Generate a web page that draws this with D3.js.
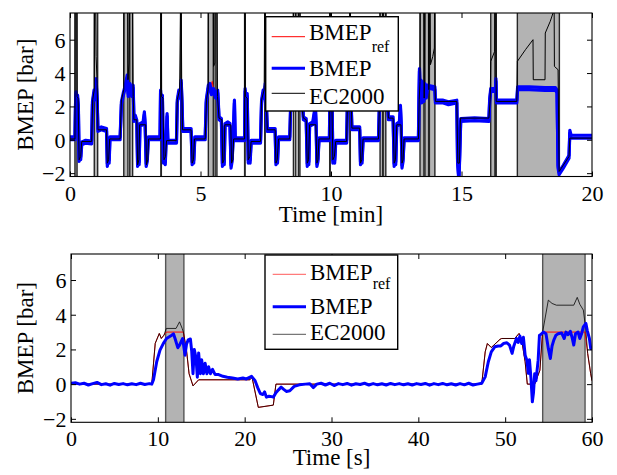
<!DOCTYPE html>
<html><head><meta charset="utf-8">
<script src="https://cdn.jsdelivr.net/npm/d3@7/dist/d3.min.js"></script>
<style>
body{margin:0;background:#fff}
svg{display:block}
text{font-family:'Liberation Serif','Tinos','Times New Roman','Nimbus Roman','DejaVu Serif',serif;fill:#000}
</style>
</head><body>
<svg id="c" width="617" height="475"></svg>
<script>
// ---------------- DATA ----------------
const seriesNames = ["BMEP", "BMEP", "EC2000"]; // first gets subscript "ref"
const yTicks = [-2, 0, 2, 4, 6];
const topXTicks = [0, 5, 10, 15, 20];
const botXTicks = [0, 10, 20, 30, 40, 50, 60];
const topXLabel = "Time [min]";
const botXLabel = "Time [s]";
const yLabel = "BMEP [bar]";

// gray bands (EC2000 out of range), [start, end]
const topBands = [[0.19,0.27],[0.93,1.06],[2.06,2.22],[2.29,2.40],[3.48,3.50],[4.24,4.26],[5.30,5.49],[5.56,5.63],
  [6.69,6.71],[7.46,7.48],[8.56,8.65],[8.75,8.81],[9.95,9.97],[10.72,10.74],[11.88,11.98],[12.0,12.1],
  [13.41,13.56],[13.60,13.74],[13.77,13.98],[16.12,16.28],[16.31,16.33],[17.14,18.75]];
const botBands = [[10.9,13.0],[54.32,59.2]];

// top panel: time in minutes
const topRef = [[0,0.05],[0.19,0.05],[0.22,2.6],[0.31,2.5],[0.35,-1.1],[0.41,-1.0],[0.45,-0.1],[0.83,-0.1],[0.87,2.3],[0.96,2.9],[1.02,3.4],[1.07,0.6],[1.4,0.6],[1.43,-1.4],[1.48,-1.2],[1.52,0.05],[1.92,0.05],[1.97,2.3],[2.1,3.0],[2.2,3.6],[2.26,2.8],[2.42,2.6],[2.45,1.2],[2.56,1.2],[2.59,-1.4],[2.64,-1.2],[2.67,0.9],[2.9,0.9],[2.93,-1.4],[2.98,-1.2],[3.01,0.05],
  [3.45,0.05],[3.48,2.6],[3.56,2.5],[3.6,-1.1],[3.66,-1.0],[3.7,-0.05],[4.07,-0.05],[4.11,2.3],[4.2,2.9],[4.26,3.4],[4.31,0.6],[4.64,0.6],[4.68,-1.4],[4.73,-1.2],[4.77,0.05],[5.18,0.05],[5.23,2.3],[5.35,3.0],[5.45,3.5],[5.52,2.8],[5.68,2.6],[5.71,1.2],[5.82,1.2],[5.85,-1.4],[5.9,-1.2],[5.93,0.9],[6.16,0.9],[6.19,-1.4],[6.24,-1.2],[6.27,0.05],
  [6.69,0.05],[6.72,2.6],[6.79,2.5],[6.83,-1.1],[6.89,-1.0],[6.94,-0.1],[7.3,-0.1],[7.34,2.3],[7.44,2.9],[7.49,3.4],[7.56,0.6],[7.86,0.6],[7.89,-1.4],[7.94,-1.2],[7.99,0.05],[8.42,0.05],[8.46,2.3],[8.56,3.0],[8.64,3.5],[8.7,2.8],[8.88,2.6],[8.94,1.2],[9.05,1.2],[9.09,-1.4],[9.14,-1.2],[9.18,0.9],[9.42,0.9],[9.46,-1.4],[9.5,-1.2],[9.54,0.05],
  [9.95,0.05],[9.98,2.6],[10.03,2.5],[10.07,-1.1],[10.13,-1.0],[10.18,-0.1],[10.6,-0.1],[10.63,2.3],[10.7,2.9],[10.75,3.4],[10.8,0.7],[11.1,0.7],[11.13,-1.4],[11.18,-1.2],[11.23,0.05],[11.82,0.05],[11.86,2.3],[11.94,3.0],[12.0,3.5],[12.06,2.8],[12.16,2.6],[12.2,1.2],[12.38,1.2],[12.42,-1.4],[12.47,-1.2],[12.52,0.9],[12.68,0.9],[12.72,-1.4],[12.76,-1.2],[12.8,0.05],
  [13.35,0.05],[13.38,2.4],[13.42,3.6],[13.46,2.5],[13.5,3.3],[13.55,2.4],[13.6,3.2],[13.66,2.6],[13.72,3.1],[13.98,3.1],[14.0,2.3],[14.82,2.3],[14.86,-1.4],[14.92,-1.3],[14.96,1.3],[16.05,1.3],[16.1,2.4],[16.15,3.0],[16.3,3.0],[16.33,2.3],[17.12,2.3],[17.15,3.0],[18.68,3.0],[18.72,-1.9],[19.12,-1.0],[19.15,0.1],[20,0.1]];

const topBmep = [[0,0.1],[0.19,0.1],[0.21,2.0],[0.23,2.8],[0.26,1.6],[0.29,2.6],[0.32,2.0],[0.35,-1.2],[0.38,-0.7],[0.41,-1.1],[0.45,-0.2],[0.6,-0.1],[0.83,-0.15],[0.86,2.2],[0.92,2.9],[0.97,2.5],[1.0,3.6],[1.04,2.4],[1.07,0.6],[1.2,0.7],[1.4,0.6],[1.43,-1.5],[1.47,-1.0],[1.5,-1.3],[1.53,0.1],[1.92,0.1],[1.97,2.2],[2.05,2.8],[2.12,3.2],[2.19,3.8],[2.23,2.7],[2.3,3.3],[2.36,2.7],[2.42,3.2],[2.45,1.2],[2.5,1.4],[2.56,1.1],[2.59,-1.5],[2.62,-1.1],[2.65,-1.4],[2.68,0.9],[2.8,1.0],[2.85,1.6],[2.88,0.9],[2.92,-1.5],[2.96,-1.2],[3.0,0.1],
  [3.45,0.1],[3.47,2.9],[3.5,2.2],[3.54,2.6],[3.58,-1.3],[3.62,-1.0],[3.65,-1.4],[3.68,-0.1],[3.72,1.5],[3.75,-0.1],[4.08,-0.1],[4.11,2.3],[4.17,2.9],[4.22,2.6],[4.26,3.5],[4.29,2.3],[4.32,0.6],[4.64,0.6],[4.68,-1.4],[4.71,-1.0],[4.74,-1.3],[4.78,0.1],[5.18,0.1],[5.22,2.3],[5.3,3.2],[5.36,3.3],[5.42,2.8],[5.5,3.0],[5.58,2.6],[5.66,2.9],[5.71,1.3],[5.8,1.2],[5.84,-1.5],[5.88,-1.0],[5.91,-1.4],[5.94,0.9],[6.05,1.0],[6.13,0.9],[6.17,-1.6],[6.21,-1.2],[6.25,0.05],[6.3,2.3],[6.33,0.05],
  [6.69,0.05],[6.71,3.0],[6.75,2.3],[6.79,2.7],[6.83,-1.3],[6.87,-0.9],[6.9,-1.3],[6.94,-0.1],[7.3,-0.1],[7.34,2.3],[7.4,2.9],[7.44,2.6],[7.48,3.3],[7.52,2.3],[7.56,0.6],[7.86,0.6],[7.89,-1.4],[7.92,-1.0],[7.95,-1.3],[7.99,0.1],[8.42,0.1],[8.46,2.3],[8.54,3.0],[8.6,3.4],[8.66,2.8],[8.74,3.1],[8.82,2.7],[8.9,2.9],[8.94,1.3],[9.05,1.2],[9.09,-1.5],[9.12,-1.0],[9.15,-1.4],[9.18,0.9],[9.3,1.0],[9.4,2.0],[9.43,0.9],[9.46,-1.5],[9.5,-1.2],[9.54,0.05],
  [9.94,0.05],[9.96,3.0],[10.0,2.3],[10.04,2.6],[10.07,-1.3],[10.11,-0.9],[10.14,-1.3],[10.18,-0.1],[10.6,-0.1],[10.63,2.3],[10.68,2.9],[10.71,2.6],[10.74,3.4],[10.77,2.3],[10.8,0.7],[11.1,0.7],[11.13,-1.4],[11.16,-1.0],[11.19,-1.3],[11.23,0.05],[11.82,0.05],[11.86,2.4],[11.92,3.0],[11.98,3.6],[12.04,2.8],[12.1,3.1],[12.16,2.7],[12.2,1.3],[12.38,1.3],[12.42,-1.5],[12.45,-1.0],[12.48,-1.4],[12.52,0.9],[12.62,1.0],[12.66,2.0],[12.69,0.9],[12.72,-1.6],[12.76,-1.2],[12.8,0.05],
  [13.35,0.05],[13.37,2.4],[13.39,4.2],[13.42,2.5],[13.45,3.5],[13.48,2.3],[13.52,3.4],[13.56,2.4],[13.6,3.3],[13.65,2.6],[13.7,3.2],[13.98,3.1],[14.0,2.3],[14.3,2.3],[14.5,2.2],[14.82,2.3],[14.85,-1.3],[14.9,-2.4],[14.93,-1.0],[14.97,1.2],[15.5,1.25],[16.05,1.2],[16.08,2.4],[16.12,3.0],[16.3,3.0],[16.32,3.6],[16.34,2.3],[16.7,2.3],[17.12,2.3],[17.15,3.1],[17.6,3.1],[18.2,3.05],[18.6,3.05],[18.66,2.9],[18.7,-1.6],[18.74,-2.0],[18.9,-1.6],[19.12,-1.0],[19.15,0.5],[19.2,0.2],[20,0.2]];

const topEc = [[0,0.05],[0.19,0.05],[0.2,9],[0.26,9],[0.27,2.6],[0.31,2.5],[0.35,-1.2],[0.41,-1.0],[0.45,-0.1],[0.83,-0.1],[0.87,2.4],[0.93,3.0],[0.94,9],[0.98,9],[1.0,5.0],[1.04,3.4],[1.07,0.6],[1.4,0.6],[1.43,-1.4],[1.48,-1.2],[1.52,0.05],[1.92,0.05],[1.97,2.4],[2.06,3.0],[2.07,9],[2.21,9],[2.22,3.6],[2.26,4.6],[2.29,9],[2.39,9],[2.42,2.6],[2.45,1.2],[2.56,1.2],[2.59,-1.5],[2.64,-1.2],[2.67,0.9],[2.9,0.9],[2.93,-1.5],[2.98,-1.2],[3.01,0.05],
  [3.47,0.05],[3.48,9],[3.5,9],[3.51,2.6],[3.56,2.5],[3.6,-1.2],[3.66,-1.0],[3.7,-0.05],[4.07,-0.05],[4.11,2.4],[4.2,3.0],[4.24,9],[4.26,9],[4.28,3.4],[4.31,0.6],[4.64,0.6],[4.68,-1.4],[4.73,-1.2],[4.77,0.05],[5.18,0.05],[5.23,2.4],[5.29,3.0],[5.3,9],[5.49,9],[5.5,4.4],[5.55,4.6],[5.56,9],[5.63,9],[5.65,2.6],[5.71,1.3],[5.82,1.2],[5.85,-1.4],[5.9,-1.2],[5.93,0.9],[6.16,0.9],[6.19,-1.4],[6.24,-1.2],[6.27,0.05],
  [6.69,0.05],[6.7,9],[6.71,9],[6.72,2.6],[6.79,2.5],[6.83,-1.2],[6.89,-1.0],[6.94,-0.1],[7.3,-0.1],[7.34,2.4],[7.44,3.0],[7.46,9],[7.48,9],[7.5,3.3],[7.56,0.6],[7.86,0.6],[7.89,-1.4],[7.94,-1.2],[7.99,0.05],[8.42,0.05],[8.46,2.4],[8.55,3.0],[8.56,9],[8.65,9],[8.66,3.5],[8.74,3.0],[8.75,9],[8.81,9],[8.83,2.7],[8.94,1.3],[9.05,1.2],[9.09,-1.4],[9.14,-1.2],[9.18,0.9],[9.42,0.9],[9.46,-1.4],[9.5,-1.2],[9.54,0.05],
  [9.95,0.05],[9.96,9],[9.97,9],[9.98,2.6],[10.03,2.5],[10.07,-1.2],[10.13,-1.0],[10.18,-0.1],[10.6,-0.1],[10.63,2.4],[10.71,3.0],[10.72,9],[10.74,9],[10.76,3.3],[10.8,0.7],[11.1,0.7],[11.13,-1.4],[11.18,-1.2],[11.23,0.05],[11.82,0.05],[11.86,2.4],[11.87,3.0],[11.88,9],[11.98,9],[11.99,4.0],[12.0,9],[12.1,9],[12.12,3.0],[12.16,2.7],[12.2,1.3],[12.38,1.3],[12.42,-1.4],[12.47,-1.2],[12.52,0.9],[12.68,0.9],[12.72,-1.4],[12.76,-1.2],[12.8,0.05],
  [13.35,0.05],[13.38,2.4],[13.41,3.5],[13.42,9],[13.56,9],[13.57,2.5],[13.6,9],[13.74,9],[13.75,3.0],[13.77,9],[13.8,9],[13.81,4.5],[13.9,5.0],[13.96,5.5],[13.97,9],[13.98,9],[13.99,3.1],[14.0,2.3],[14.82,2.3],[14.86,-1.4],[14.92,-1.4],[14.96,1.3],[16.05,1.3],[16.1,2.4],[16.12,4.7],[16.27,5.3],[16.28,9],[16.32,9],[16.33,2.3],[17.12,2.3],[17.14,4.7],[17.45,5.4],[17.74,6.0],[17.75,3.6],[18.2,3.6],[18.21,6.4],[18.4,7.1],[18.55,7.8],[18.56,4.4],[18.7,4.2],[18.74,-1.9],[19.12,-1.0],[19.15,0.1],[20,0.1]];

// bottom panel: time in seconds
const botRef = [[0,0],[9.3,0],[9.7,2.35],[10.17,2.92],[10.4,2.63],[10.7,2.82],[10.98,3.0],[12.94,3.0],[13.3,1.96],[13.6,0.6],[14.05,-0.1],[14.7,0.25],[20.6,0.25],[20.85,0.39],[21.57,-1.34],[23.3,-1.21],[23.6,0],[47.3,0],[47.7,1.86],[47.95,2.34],[48.4,2.11],[48.7,2.25],[49.4,2.58],[49.6,2.63],[51.1,2.63],[51.6,2.92],[51.9,2.54],[52.3,1.29],[52.55,0],[53.4,0],[54.0,0.8],[54.3,2.92],[54.45,3.0],[59.2,3.0],[59.5,1.77],[59.85,0.6],[60,0.2]];

const botEc = [[0,0],[9.3,0],[9.7,2.35],[10.17,2.92],[10.4,2.63],[10.7,2.82],[10.98,3.21],[12.1,3.21],[12.5,3.59],[12.8,3.21],[12.94,3.0],[13.3,1.96],[13.6,0.6],[14.05,-0.1],[14.7,0.25],[20.6,0.25],[20.85,0.39],[21.57,-1.34],[23.3,-1.21],[23.6,0],[47.3,0],[47.7,1.86],[47.95,2.34],[48.4,2.11],[48.7,2.25],[49.4,2.58],[49.6,2.63],[51.1,2.63],[51.6,2.92],[51.9,2.54],[52.3,1.29],[52.55,0],[53.4,0],[54.0,0.8],[54.3,2.96],[54.97,4.84],[55.4,4.65],[55.9,4.55],[57.9,4.55],[58.3,5.0],[58.6,4.6],[59.0,4.27],[59.3,3.1],[59.5,1.77],[59.85,0.6],[60,0.2]];

const botBmep = [[0,0.05],[0.5,0.08],[1,0.0],[1.5,0.05],[2,-0.05],[2.5,0.03],[3,0.1],[3.5,-0.03],[4,0.02],[4.5,-0.06],[5,0.04],[5.5,-0.02],[6,0.03],[6.5,-0.04],[7,0.02],[7.5,-0.03],[8,0.05],[8.5,-0.02],[9,0.03],[9.3,0.0],
  [9.5,0.25],[9.87,1.29],[10.25,1.96],[10.64,2.35],[11.0,2.63],[11.6,2.82],[11.8,2.9],[12.0,2.6],[12.3,2.1],[12.5,2.25],[12.86,2.63],[13.13,1.67],[13.3,2.3],[13.5,2.55],[13.75,2.6],[13.9,1.9],[14.05,0.6],[14.2,2.0],[14.4,1.5],[14.55,0.4],[14.7,1.8],[14.9,0.6],[15.05,1.4],[15.25,0.6],[15.45,1.2],[15.65,0.6],[15.85,1.0],[16.05,0.6],[16.3,0.85],[16.6,0.55],[17.0,0.55],[17.5,0.45],[18.0,0.4],[18.6,0.35],[19.2,0.3],[19.8,0.35],[20.2,0.3],[20.8,0.45],[21.2,0.2],[21.5,-0.2],[21.8,-0.54],[22.1,-0.6],[22.3,-0.45],[22.5,-0.75],[22.8,-0.7],[23.1,-0.72],[23.3,-0.75],[23.6,-0.5],[23.9,-0.33],[24.2,-0.17],[24.5,-0.3],[24.8,-0.42],[25.2,-0.38],[25.7,-0.13],[26.3,-0.04],[27,0.0],
  [27.5,0.02],[27.9,-0.2],[28.3,0.0],[28.8,0.05],[29.3,-0.05],[29.8,0.05],[30.3,-0.08],[30.8,0.03],[31.3,-0.03],[31.8,0.04],[32.3,-0.06],[32.8,0.02],[33.3,-0.02],[33.8,0.05],[34.3,-0.05],[34.8,0.03],[35.3,-0.04],[35.8,0.02],[36.3,-0.05],[36.8,0.04],[37.3,-0.03],[37.8,0.03],[38.3,-0.04],[38.8,0.02],[39.3,-0.05],[39.8,0.03],[40.3,-0.02],[40.8,0.04],[41.3,-0.06],[41.8,0.03],[42.3,-0.03],[42.8,0.04],[43.3,-0.04],[43.8,0.02],[44.3,-0.05],[44.8,0.03],[45.3,-0.04],[45.8,0.05],[46.3,-0.05],[46.8,0.0],[47.3,0.05],
  [47.7,0.42],[48.06,1.29],[48.4,1.86],[48.8,2.15],[49.2,2.2],[49.5,2.2],[49.8,2.34],[50.2,2.38],[50.5,2.25],[50.8,1.77],[51.0,2.2],[51.3,2.63],[51.5,2.4],[51.7,2.77],[51.9,2.34],[52.1,2.7],[52.3,1.67],[52.5,1.38],[52.67,0.62],[52.8,1.4],[52.97,0.35],[53.13,-1.02],[53.26,-0.5],[53.4,0.6],[53.55,0.2],[53.8,1.38],[53.95,2.82],[54.1,2.86],[54.4,3.0],[54.7,2.9],[54.97,2.06],[55.2,1.48],[55.4,2.2],[55.6,2.54],[55.85,2.82],[56.1,2.9],[56.5,2.95],[56.8,2.63],[57.0,3.0],[57.25,2.85],[57.5,3.05],[57.7,2.7],[57.9,2.25],[58.1,2.9],[58.4,3.0],[58.6,2.63],[58.8,2.9],[59.0,3.3],[59.3,3.5],[59.45,3.1],[59.7,2.63],[59.85,2.06],[60,2.0]];

// ---------------- DRAW ----------------
const FONT = "'Liberation Serif','Tinos','Times New Roman','Nimbus Roman','DejaVu Serif',serif";
const svg = d3.select('#c');
const defs = svg.append('defs');

function panel(o){
  const x = d3.scaleLinear().domain(o.xDomain).range([o.left, o.right]);
  const y = d3.scaleLinear().domain(o.yDomain).range([o.bottom, o.top]);
  const g = svg.append('g').attr('font-family', FONT);
  defs.append('clipPath').attr('id', 'clip' + o.id)
    .append('rect').attr('x', o.left).attr('y', o.top)
    .attr('width', o.right - o.left).attr('height', o.bottom - o.top);
  const plot = g.append('g').attr('clip-path', `url(#clip${o.id})`);

  plot.selectAll('rect.band').data(o.bands).join('rect')
    .attr('class', 'band')
    .attr('x', d => x(d[0])).attr('width', d => Math.max(0.01, x(d[1]) - x(d[0])))
    .attr('y', o.top - 3).attr('height', o.bottom - o.top + 6)
    .attr('fill', '#b3b3b3').attr('stroke', o.bandEdge).attr('stroke-width', 1.4);

  const line = d3.line().x(d => x(d[0])).y(d => y(d[1]));
  const drawRef = () => plot.append('path').attr('d', line(o.ref)).attr('fill', 'none')
      .attr('stroke', '#ff0000').attr('stroke-width', 1);
  const drawEc = () => plot.append('path').attr('d', line(o.ec)).attr('fill', 'none')
      .attr('stroke', '#000').attr('stroke-width', 1).attr('stroke-opacity', o.ecOpacity)
      .attr('stroke-linejoin', 'round');
  const drawBmep = () => {
    o.blueOffsets.forEach(dy => {
      plot.append('path').attr('d', line(o.bmep)).attr('fill', 'none')
        .attr('transform', `translate(0,${dy})`)
        .attr('stroke', '#0000ff').attr('stroke-width', o.blueWidth)
        .attr('stroke-linejoin', 'round');
    });
  };
  drawRef();
  if (o.blueOnTop) { drawEc(); drawBmep(); } else { drawBmep(); drawEc(); }

  // axes (ticks inside on all four sides)
  const fmt = d3.format('d');
  const minus = v => (v < 0 ? '\u2212' + Math.abs(v) : String(v));
  const axB = g.append('g').attr('transform', `translate(0,${o.bottom})`)
    .call(d3.axisBottom(x).tickValues(o.xTicks).tickSizeInner(-5).tickSizeOuter(0).tickPadding(o.xPad).tickFormat(fmt));
  const axT = g.append('g').attr('transform', `translate(0,${o.top})`)
    .call(d3.axisTop(x).tickValues(o.xTicks).tickSizeInner(-5).tickSizeOuter(0).tickFormat(''));
  const axL = g.append('g').attr('transform', `translate(${o.left},0)`)
    .call(d3.axisLeft(y).tickValues(yTicks).tickSizeInner(-5).tickSizeOuter(0).tickPadding(o.yPad).tickFormat(minus));
  const axR = g.append('g').attr('transform', `translate(${o.right},0)`)
    .call(d3.axisRight(y).tickValues(yTicks).tickSizeInner(-5).tickSizeOuter(0).tickFormat(''));
  [axB, axT, axL, axR].forEach(a => {
    a.attr('font-family', FONT).attr('font-size', 22);
    a.select('.domain').remove();
    a.selectAll('line').attr('stroke', '#000').attr('stroke-width', 1);
    a.selectAll('text').style('font-family', FONT).attr('font-size', 22).attr('fill', '#000');
  });
  axL.selectAll('text').attr('dy', '0.34em');

  g.append('rect').attr('x', o.left).attr('y', o.top)
    .attr('width', o.right - o.left).attr('height', o.bottom - o.top)
    .attr('fill', 'none').attr('stroke', '#000').attr('stroke-width', 1.1);

  // axis labels
  g.append('text').attr('x', (o.left + o.right) / 2).attr('y', o.xLabelY)
    .attr('text-anchor', 'middle').attr('font-size', 23).text(o.xLabel);
  g.append('text').attr('transform', `translate(33,${(o.top + o.bottom) / 2}) rotate(-90)`)
    .attr('text-anchor', 'middle').attr('font-size', 23).text(yLabel);

  // legend
  const L = o.legend;
  g.append('rect').attr('x', L.x).attr('y', L.y).attr('width', L.w).attr('height', L.h)
    .attr('fill', '#fff').attr('stroke', '#000').attr('stroke-width', 1.4);
  const items = [
    {name: seriesNames[0], sub: 'ref', color: L.refColor, width: 1, ly: L.rows[0], ty: L.texts[0]},
    {name: seriesNames[1], sub: null, color: '#0000ff', width: 3, ly: L.rows[1], ty: L.texts[1]},
    {name: seriesNames[2], sub: null, color: L.ecColor, width: 1, ly: L.rows[2], ty: L.texts[2]}
  ];
  items.forEach(it => {
    g.append('line').attr('x1', L.lx1).attr('x2', L.lx2).attr('y1', it.ly).attr('y2', it.ly)
      .attr('stroke', it.color).attr('stroke-width', it.width);
    const t = g.append('text').attr('x', L.tx).attr('y', it.ty).attr('font-size', 23).text(it.name);
    if (it.sub) t.append('tspan').attr('dy', L.subDy).attr('font-size', 16).text(it.sub);
  });
}

panel({
  id: 'top', xDomain: [0, 20], yDomain: [-2.2, 7.6],
  left: 70, right: 592, top: 13, bottom: 176.5,
  bands: topBands, bandEdge: '#262626',
  ref: topRef, bmep: topBmep, ec: topEc,
  blueOffsets: [-1.2, 1.6], blueWidth: 3.2, blueOnTop: false, ecOpacity: 1,
  xTicks: topXTicks, xPad: 9, yPad: 4.5, xLabel: topXLabel, xLabelY: 222,
  legend: {x: 265.7, y: 16.7, w: 132.6, h: 94.3, lx1: 271.7, lx2: 305, tx: 309,
    rows: [36.7, 68.3, 93.3], texts: [40, 76, 104], subDy: 11.5,
    refColor: '#ff0000', ecColor: '#000'}
});

panel({
  id: 'bot', xDomain: [0, 60], yDomain: [-2.2, 7.5],
  left: 71, right: 592, top: 254, bottom: 422.3,
  bands: botBands, bandEdge: '#555555',
  ref: botRef, bmep: botBmep, ec: botEc,
  blueOffsets: [0], blueWidth: 3, blueOnTop: true, ecOpacity: 0.78,
  xTicks: botXTicks, xPad: 8.5, yPad: 4.5, xLabel: botXLabel, xLabelY: 465,
  legend: {x: 265, y: 255, w: 132.7, h: 94.3, lx1: 272.7, lx2: 306, tx: 310,
    rows: [274.3, 306.7, 334.3], texts: [280, 314, 340], subDy: 8.5,
    refColor: '#ff5a5a', ecColor: '#555555'}
});
</script>
</body></html>
